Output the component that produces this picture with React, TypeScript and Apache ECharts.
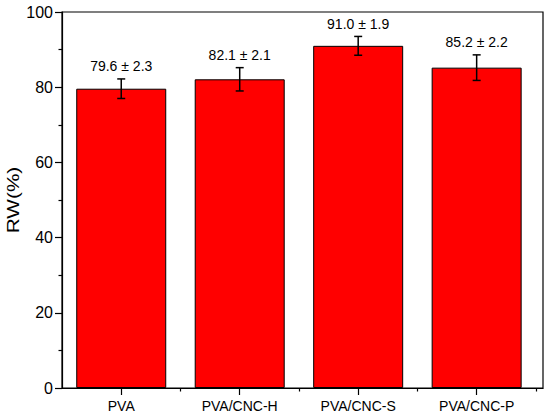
import React, { useEffect, useRef } from "react";
import * as echarts from "echarts";

const categories = ["PVA", "PVA/CNC-H", "PVA/CNC-S", "PVA/CNC-P"];
const categoryPositions = [1, 2, 3, 4];
const rwValues = [79.6, 82.1, 91.0, 85.2];
const rwSD = [2.3, 2.1, 1.9, 2.2];
// half-length of the error bars as drawn in the picture
const errorBarHalf = [2.6, 3.1, 2.5, 3.4];
const yTicks = [0, 20, 40, 60, 80, 100];

const FONT = "Liberation Sans, Arial, sans-serif";

export default function App() {
  const ref = useRef<HTMLDivElement>(null);

  useEffect(() => {
    if (!ref.current) return;
    const chart = echarts.init(ref.current, null, { renderer: "svg" });
    const labels = rwValues.map((v, i) => `${v.toFixed(1)} ± ${rwSD[i].toFixed(1)}`);

    chart.setOption({
      animation: false,
      backgroundColor: "#ffffff",
      grid: {
        left: 62,
        right: 7,
        top: 12,
        bottom: 28,
        show: true,
        borderColor: "#000",
        borderWidth: 1.2,
        backgroundColor: "transparent",
      },
      xAxis: [
        {
          type: "value",
          min: 0.5,
          max: 4.56,
          interval: 0.5,
          splitLine: { show: false },
          axisLine: { show: true, lineStyle: { color: "#000", width: 1.2 } },
          axisTick: {
            show: true,
            customValues: categoryPositions,
            length: 7,
            lineStyle: { color: "#000", width: 1.2 },
          },
          axisLabel: {
            customValues: categoryPositions,
            formatter: (v: number) => {
              const idx = categoryPositions.indexOf(Math.round(v * 100) / 100);
              return idx >= 0 ? categories[idx] : "";
            },
            color: "#000",
            fontSize: 14,
            fontFamily: FONT,
            margin: 11,
            showMinLabel: true,
            showMaxLabel: true,
          },
        },
        {
          type: "value",
          min: 0.5,
          max: 4.56,
          interval: 0.5,
          position: "bottom",
          splitLine: { show: false },
          axisLine: { show: false },
          axisTick: {
            show: true,
            customValues: [1.5, 2.5, 3.5, 4.5],
            length: 3.5,
            lineStyle: { color: "#000", width: 1.2 },
          },
          axisLabel: { show: false },
        },
      ],
      yAxis: {
        type: "value",
        min: 0,
        max: 100,
        interval: 20,
        splitLine: { show: false },
        axisLine: { show: true, lineStyle: { color: "#000", width: 1.2 } },
        axisTick: { show: true, length: 7, lineStyle: { color: "#000", width: 1.2 } },
        minorTick: { show: true, splitNumber: 2, length: 3.5, lineStyle: { color: "#000", width: 1.2 } },
        minorSplitLine: { show: false },
        axisLabel: {
          color: "#000",
          fontSize: 16,
          fontFamily: FONT,
          margin: 9,
          customValues: yTicks,
        },
      },
      graphic: [
        {
          type: "text",
          x: 13,
          y: 200,
          rotation: Math.PI / 2,
          scaleX: 1.3,
          style: {
            text: "RW(%)",
            fontSize: 16,
            fontFamily: FONT,
            fill: "#000",
            align: "center",
            verticalAlign: "middle",
          },
        },
      ],
      series: [
        {
          type: "bar",
          xAxisIndex: 0,
          data: rwValues.map((v, i) => [categoryPositions[i], v]),
          barWidth: 90,
          itemStyle: { color: "#ff0000", borderColor: "#000", borderWidth: 1 },
          z: 2,
        },
        {
          type: "custom",
          xAxisIndex: 0,
          data: rwValues.map((v, i) => [categoryPositions[i], v, errorBarHalf[i]]),
          z: 5,
          renderItem: (params: any, api: any) => {
            const i = params.dataIndex;
            const x = api.value(0);
            const v = api.value(1);
            const e = api.value(2);
            const top = api.coord([x, v + e]);
            const bot = api.coord([x, v - e]);
            const hw = 4;
            const ls = { stroke: "#000", lineWidth: 1.5 };
            return {
              type: "group",
              children: [
                { type: "line", shape: { x1: top[0], y1: top[1], x2: bot[0], y2: bot[1] }, style: ls },
                { type: "line", shape: { x1: top[0] - hw, y1: top[1], x2: top[0] + hw, y2: top[1] }, style: ls },
                { type: "line", shape: { x1: bot[0] - hw, y1: bot[1], x2: bot[0] + hw, y2: bot[1] }, style: ls },
                {
                  type: "text",
                  x: top[0],
                  y: top[1] - 12.5,
                  style: {
                    text: labels[i],
                    fontSize: 14,
                    fontFamily: FONT,
                    fill: "#000",
                    align: "center",
                    verticalAlign: "middle",
                  },
                },
              ],
            };
          },
        },
      ],
    });

    return () => chart.dispose();
  }, []);

  return (
    <div
      ref={ref}
      style={{ position: "fixed", left: 0, top: 0, width: 550, height: 416, background: "#fff" }}
    />
  );
}
